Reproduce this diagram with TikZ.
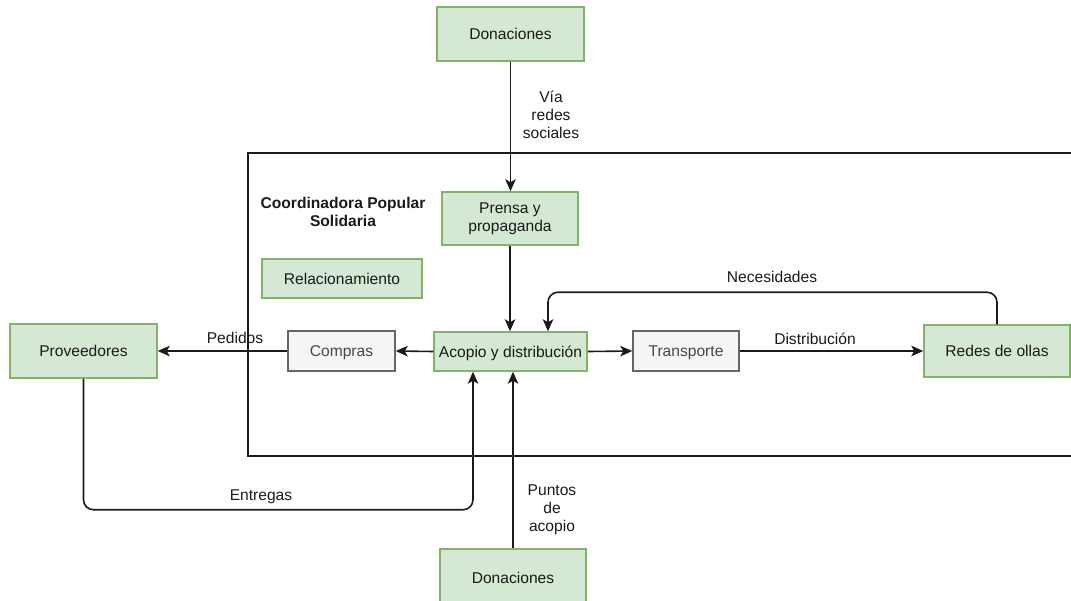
\documentclass[tikz,border=0pt]{standalone}
\usepackage{fontspec}
\setmainfont{Liberation Sans}
\usetikzlibrary{arrows.meta}
\definecolor{gfill}{HTML}{D5E8D4}
\definecolor{gline}{HTML}{82B366}
\definecolor{sfill}{HTML}{F5F5F5}
\definecolor{sline}{HTML}{666666}
\definecolor{ink}{HTML}{1A1A1A}
\tikzset{
  greenbox/.style={draw=gline, fill=gfill, line width=1.5pt, inner sep=0pt,
    align=center, text=ink},
  greybox/.style={draw=sline, fill=sfill, line width=1.5pt, inner sep=0pt,
    align=center, text=ink!80},
  oneline/.style={text depth=0pt},
  lbl/.style={align=center, text=ink, inner sep=0pt},
  arr/.style={draw=ink, line width=1.6pt, -{Stealth[length=12pt,width=10.5pt,inset=3pt]}},
  every node/.append style={font=\fontsize{15.6}{18}\selectfont}
}
\begin{document}
\begin{tikzpicture}[x=1pt, y=-1pt]
\useasboundingbox (0,0) rectangle (1071,600);
\clip (0,0) rectangle (1071,600);

% organisation frame
\draw[ink, line width=1.6pt] (1090,153) -- (248,153) -- (248,456) -- (1090,456);
\node[lbl, font=\bfseries\fontsize{15.6}{18}\selectfont] (coord) at (343,212) {Coordinadora Popular\\Solidaria};

% boxes
\node[greenbox, oneline, minimum width=147, minimum height=54] (don1) at (510.5,34) {Donaciones};
\node[greenbox, minimum width=136, minimum height=53] (prensa) at (510,218.5) {Prensa y\\propaganda};
\node[greenbox, oneline, minimum width=160, minimum height=39] (rel) at (342,278.5) {Relacionamiento};
\node[greenbox, oneline, minimum width=153, minimum height=39] (acopio) at (510.5,351.5) {Acopio y distribución};
\node[greybox, oneline, minimum width=107, minimum height=40] (compras) at (341.5,351) {Compras};
\node[greybox, oneline, minimum width=106, minimum height=40] (transp) at (686,351) {Transporte};
\node[greenbox, oneline, minimum width=147, minimum height=54] (prov) at (83.5,351) {Proveedores};
\node[greenbox, oneline, minimum width=146, minimum height=52] (redes) at (997,351) {Redes de ollas};
\node[greenbox, oneline, minimum width=146, minimum height=58] (don2) at (513,578) {Donaciones};

% connectors
\draw[arr] (don1.south) -- (prensa.north -| don1.south);
\draw[arr] (prensa.south) -- (acopio.north -| prensa.south);
\draw[arr] (acopio.west) -- (compras.east);
\draw[arr] (compras.west) -- (prov.east);
\draw[arr] (acopio.east) -- (transp.west);
\draw[arr] (transp.east) -- (redes.west);
\draw[arr, rounded corners=10pt] (redes.north) -- ++(0,-32) -| ([xshift=37.5pt]acopio.north);
\draw[arr, rounded corners=10pt] (prov.south) -- ++(0,131) -| ([xshift=-37.5pt]acopio.south);
\draw[arr] (don2.north) -- (acopio.south -| don2.north);

% connector labels
\node[lbl] (lvia) at (551,115) {Vía\\redes\\sociales};
\node[lbl] (lpun) at (552,510) {Puntos\\de\\acopio};
\node[lbl] (lped) at (235,338) {Pedidos};
\node[lbl] (lent) at (261,497) {Entregas};
\node[lbl] (lnec) at (772,277) {Necesidades};
\node[lbl] (ldis) at (815,339) {Distribución};
\end{tikzpicture}
\end{document}
